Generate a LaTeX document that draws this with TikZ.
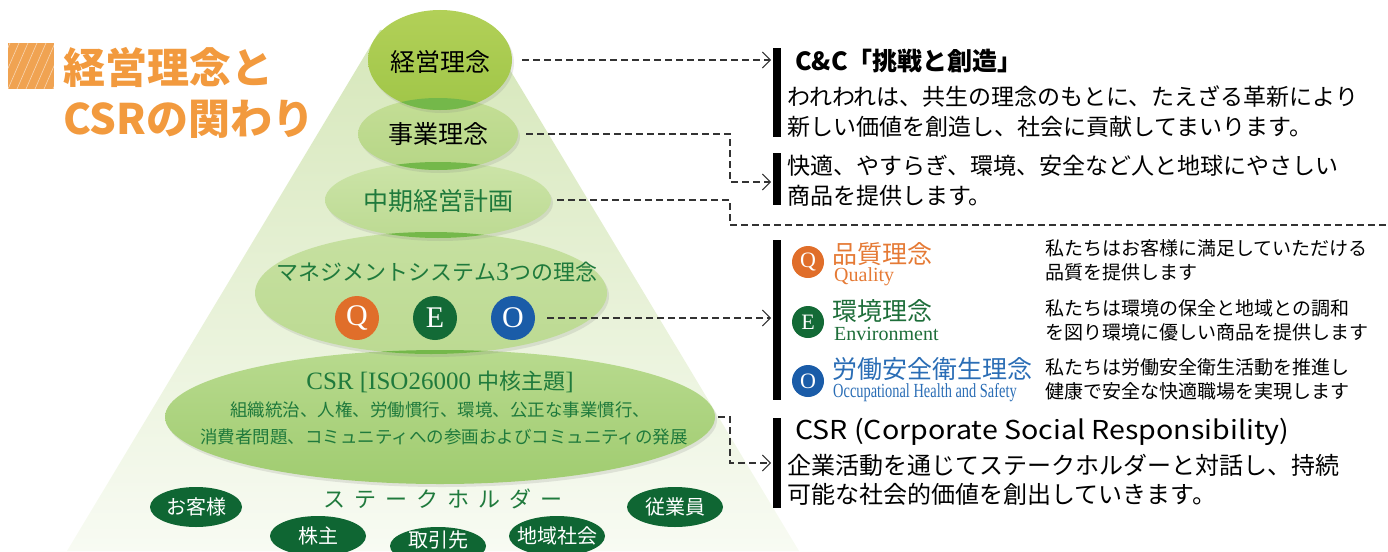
\documentclass[tikz,border=0pt]{standalone}
\usepackage{fontspec}
\setmainfont{Noto Sans CJK JP}
\newfontfamily\srf{Liberation Serif}
\usetikzlibrary{shapes.geometric,arrows.meta,shadows}
\newcommand\myfs[1]{\fontsize{#1}{#1}\selectfont}
\definecolor{ttl}{HTML}{F29A3E}
\definecolor{sq}{HTML}{F0A352}
\definecolor{gtxt}{HTML}{1F7A3C}
\definecolor{qor}{HTML}{E06E2A}
\definecolor{egr}{HTML}{136A36}
\definecolor{obl}{HTML}{1A5CA8}
\definecolor{qor2}{HTML}{E57A35}
\definecolor{egr2}{HTML}{1E6E3A}
\definecolor{obl2}{HTML}{2A6DB5}
\definecolor{sgr}{HTML}{0F6633}
\definecolor{lens}{HTML}{74B84A}
\definecolor{pyrT}{HTML}{D6E7BA}
\definecolor{pyrB}{HTML}{F8FBF3}
\begin{document}
\begin{tikzpicture}[x=1pt,y=-1pt,
  ell/.style={ellipse, inner sep=0pt, draw=none,
     drop shadow={shadow xshift=2pt, shadow yshift=-3pt, opacity=0.18}},
  conn/.style={draw=black!80, line width=1.1pt, dash pattern=on 7pt off 4pt,
     -{Straight Barb[length=8pt,width=16pt,line width=0.9pt]}},
  connplain/.style={draw=black!80, line width=1.1pt, dash pattern=on 7pt off 4pt},
  stake/.style={ellipse, fill=sgr, inner sep=0pt, minimum width=96pt,
     minimum height=40pt},
  stxt/.style={text=white, inner sep=0pt, font={\myfs{20}}},
  badge/.style={circle, inner sep=0pt, minimum size=44pt, text=white, font={\srf\myfs{30}}},
  sbadge/.style={circle, inner sep=0pt, minimum size=32pt, text=white, font={\srf\myfs{22}}},
  rt/.style={anchor=west, inner sep=0pt, font={\myfs{23}}},
  dt/.style={anchor=west, inner sep=0pt, font={\myfs{19}}},
  bar/.style={fill=black}]
\useasboundingbox (0,0) rectangle (1388,551);

% title
\fill[sq] (8,43) rectangle (54,89);
\begin{scope}
\clip (8,43) rectangle (54,89);
\foreach \k in {-3,...,5} {\draw[white, opacity=.55, line width=.6pt] ({8+\k*9},89) -- ({28+\k*9},43);}
\end{scope}
\node[anchor=west, inner sep=0pt, text=ttl, font={\bfseries\myfs{42}}] (t1) at (63,67) {経営理念と};
\node[anchor=west, inner sep=0pt, text=ttl, font={\bfseries\myfs{42}}] (t2) at (63,119) {CSRの関わり};

% pyramid
\shade[top color=pyrT, bottom color=pyrB] (380,30) -- (486,30) -- (799,551) -- (67,551) -- cycle;

% ellipses bottom to top
\node[ell, top color={rgb,255:red,184;green,218;blue,142}, bottom color={rgb,255:red,160;green,204;blue,112}, minimum width=550pt, minimum height=134pt] (csr) at (440,417) {};
\node[ell, top color={rgb,255:red,198;green,224;blue,160}, bottom color={rgb,255:red,188;green,218;blue,146}, minimum width=352pt, minimum height=122pt] (mgmt) at (431,293) {};
\begin{scope}\clip (mgmt.center) ellipse [x radius=176, y radius=61];
\fill[lens] (csr.center) ellipse [x radius=275, y radius=67];\end{scope}
\node[ell, top color={rgb,255:red,204;green,228;blue,168}, bottom color={rgb,255:red,188;green,218;blue,146}, minimum width=226pt, minimum height=76pt] (chuki) at (438,200) {};
\begin{scope}\clip (chuki.center) ellipse [x radius=113, y radius=38];
\fill[lens] (mgmt.center) ellipse [x radius=176, y radius=61];\end{scope}
\node[ell, top color={rgb,255:red,196;green,222;blue,150}, bottom color={rgb,255:red,182;green,214;blue,134}, minimum width=160pt, minimum height=72pt] (jigyo) at (438,134) {};
\begin{scope}\clip (jigyo.center) ellipse [x radius=80, y radius=36];
\fill[lens] (chuki.center) ellipse [x radius=113, y radius=38];\end{scope}
\node[ell, top color={rgb,255:red,178;green,208;blue,88}, bottom color={rgb,255:red,160;green,198;blue,72}, minimum width=144pt, minimum height=100pt] (keiei) at (440,60) {};
\begin{scope}\clip (keiei.center) ellipse [x radius=72, y radius=50];
\fill[lens] (jigyo.center) ellipse [x radius=80, y radius=36];\end{scope}

% ellipse texts
\node[inner sep=0pt, font={\myfs{25}}] (keieit) at (440,62) {経営理念};
\node[inner sep=0pt, font={\myfs{25}}] (jigyot) at (438,134) {事業理念};
\node[inner sep=0pt, text=gtxt, font={\myfs{25}}] (chukit) at (438,201) {中期経営計画};
\node[inner sep=0pt, text=gtxt, font={\myfs{22}}] (mgmtt) at (437,272) {マネジメントシステム{\srf\myfs{26}3}つの理念};
\node[badge, fill=qor] (qc) at (357,318) {Q};
\node[badge, fill=egr] (ec) at (435,318) {E};
\node[badge, fill=obl] (oc) at (513,318) {O};
\node[inner sep=0pt, text=gtxt, font={\myfs{22}}] (csrt1) at (440,382) {{\srf\myfs{25}CSR [ISO26000 }中核主題{\srf\myfs{25}]}};
\node[inner sep=0pt, text=gtxt, font={\myfs{17.5}}] (csrt2) at (440,410) {組織統治、人権、労働慣行、環境、公正な事業慣行、};
\node[inner sep=0pt, text=gtxt, font={\myfs{17.5}}] (csrt3) at (444,437) {消費者問題、コミュニティへの参画およびコミュニティの発展};

% stakeholders
\node[inner sep=0pt, text=gtxt, font={\myfs{22}}] (sh) at (443,499) {ス\kern9ptテ\kern9ptー\kern9ptク\kern9ptホ\kern9ptル\kern9ptダ\kern9ptー};
\node[stake, minimum width=92pt] (s1) at (196,507) {};
\node[stxt] (s1t) at (s1.center) {お客様};
\node[stake] (s2) at (318,536) {};
\node[stxt] (s2t) at (s2.center) {株主};
\node[stake, minimum height=38pt] (s3) at (438,546) {};
\node[stxt] (s3t) at (438,540) {取引先};
\node[stake] (s4) at (557,536) {};
\node[stxt] (s4t) at (s4.center) {地域社会};
\node[stake] (s5) at (675,507) {};
\node[stxt] (s5t) at (s5.center) {従業員};

% right bars
\fill[bar] (773,48) rectangle (781,137);
\fill[bar] (773,153) rectangle (781,205);
\fill[bar] (773,240) rectangle (781,400);
\fill[bar] (773,418) rectangle (781,508);

% right texts
\node[rt, font={\bfseries\myfs{25}}] (cc) at (795,61) {C\&C「挑戦と創造」};
\node[rt] (r1) at (787,97) {われわれは、共生の理念のもとに、たえざる革新により};
\node[rt] (r2) at (787,127) {新しい価値を創造し、社会に貢献してまいります。};
\node[rt] (r3) at (787,166) {快適、やすらぎ、環境、安全など人と地球にやさしい};
\node[rt] (r4) at (787,196) {商品を提供します。};

\node[sbadge, fill=qor] (qb) at (808,262) {Q};
\node[sbadge, fill=egr] (eb) at (808,322) {E};
\node[sbadge, fill=obl] (ob) at (808,381) {O};
\node[anchor=west, inner sep=0pt, text=qor2, font={\myfs{25}}] (qt) at (832,254) {品質理念};
\node[anchor=west, inner sep=0pt, text=qor2, font={\srf\myfs{20}}] (qs) at (834,277) {Quality};
\node[anchor=west, inner sep=0pt, text=egr2, font={\myfs{25}}] (et) at (832,311) {環境理念};
\node[anchor=west, inner sep=0pt, text=egr2, font={\srf\myfs{20}}] (es) at (834,334) {Environment};
\node[anchor=west, inner sep=0pt, text=obl2, font={\myfs{25}}] (ot) at (832,369) {労働安全衛生理念};
\node[anchor=west, inner sep=0pt, text=obl2, font={\srf\myfs{20}}] (os) at (833,393) {\scalebox{0.72}[1]{Occupational Health and Safety}};
\node[dt] (d1) at (1045,248) {私たちはお客様に満足していただける};
\node[dt] (d2) at (1045,272) {品質を提供します};
\node[dt] (d3) at (1045,308) {私たちは環境の保全と地域との調和};
\node[dt] (d4) at (1045,332) {を図り環境に優しい商品を提供します};
\node[dt] (d5) at (1045,367) {私たちは労働安全衛生活動を推進し};
\node[dt] (d6) at (1045,391) {健康で安全な快適職場を実現します};

\node[rt, font={\myfs{26}}] (ct) at (795,432) {\scalebox{1.1}[1]{CSR (Corporate Social Responsibility)}};
\node[rt, font={\myfs{24}}] (c1) at (787,465) {企業活動を通じてステークホルダーと対話し、持続};
\node[rt, font={\myfs{24}}] (c2) at (787,494) {可能な社会的価値を創出していきます。};

% connectors
\coordinate (a1) at (771,60);
\coordinate (k2) at (730,182);
\coordinate (a2) at (771,182);
\coordinate (k3) at (730,225);
\coordinate (e3) at (1388,225);
\coordinate (a4) at (771,318);
\coordinate (k5) at (730,463);
\coordinate (a5) at (771,463);
\draw[conn, shorten <=10pt] (keiei.east) -- (a1);
\draw[conn, shorten <=8pt] (jigyo.east) -| (k2) -- (a2);
\draw[connplain, shorten <=6pt] (chuki.east) -| (k3) -- (e3);
\draw[conn, shorten <=12pt] (oc.east) -- (a4);
\draw[conn, shorten <=3pt] (csr.east) -| (k5) -- (a5);
\end{tikzpicture}
\end{document}
